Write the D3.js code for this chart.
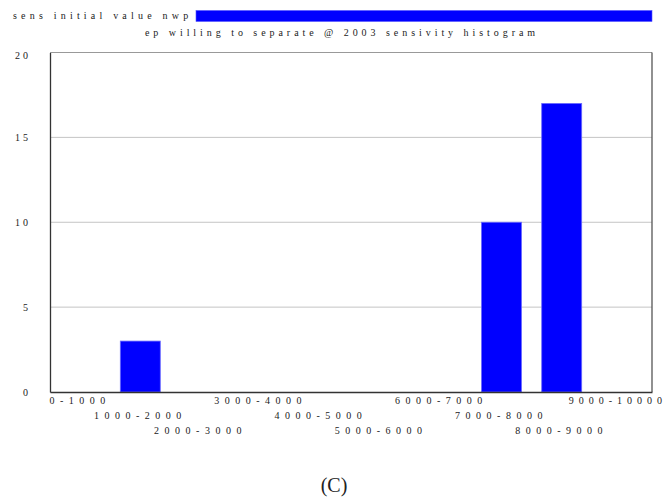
<!DOCTYPE html>
<html><head><meta charset="utf-8">
<script src="https://cdn.jsdelivr.net/npm/d3@7"></script>
<style>body{margin:0;background:#fff}svg{display:block}text{font-family:"Liberation Serif","Times New Roman",serif;fill:#222}</style>
</head><body><svg id="c" width="670" height="499"></svg>
<script>
const categories = ["0-1000","1000-2000","2000-3000","3000-4000","4000-5000","5000-6000","6000-7000","7000-8000","8000-9000","9000-10000"];
const counts = [0,3,0,0,0,0,0,10,17,0];
const yTicks = [0,5,10,15,20];
const title = "ep willing to separate @ 2003 sensivity histogram";
const sliderLabel = "sens initial value nwp";
const caption = "(C)";

const svg = d3.select("#c");
const m = {l:50, r:652, t:52.5, b:392};
const x = d3.scaleBand().domain(categories).range([m.l, m.r]).paddingInner(0.336).paddingOuter(0.168);
const y = d3.scaleLinear().domain([0,20]).range([m.b, m.t]);

// top slider line
svg.append("text").attr("x",13).attr("y",19).attr("font-size",10).attr("letter-spacing","4.2px").text(sliderLabel);
svg.append("rect").attr("x",196).attr("y",10.5).attr("width",456).attr("height",11).attr("fill","#0000ff").attr("stroke","#5555ff").attr("stroke-width",0.6);
svg.append("text").attr("x",342).attr("y",36).attr("text-anchor","middle").attr("font-size",10).attr("letter-spacing","3.95px").text(title);

// gridlines
svg.append("g").selectAll("line").data(yTicks.filter(d=>d>0&&d<20)).join("line")
  .attr("x1",m.l).attr("x2",m.r).attr("y1",d=>y(d)).attr("y2",d=>y(d)).attr("stroke","#c4c4c4").attr("stroke-width",1);
// frame
svg.append("line").attr("x1",m.l).attr("x2",m.r).attr("y1",y(20)).attr("y2",y(20)).attr("stroke","#999").attr("stroke-width",1);
svg.append("line").attr("x1",m.r).attr("x2",m.r).attr("y1",y(20)).attr("y2",m.b).attr("stroke","#555").attr("stroke-width",1.3);

// bars
svg.append("g").selectAll("rect").data(categories.map((c,i)=>({c,v:counts[i]})).filter(d=>d.v>0)).join("rect")
  .attr("x",d=>x(d.c)).attr("width",x.bandwidth()).attr("y",d=>y(d.v)).attr("height",d=>m.b-y(d.v))
  .attr("fill","#0000ff").attr("stroke","#6a6aff").attr("stroke-width",0.8);

// axes
const ya = svg.append("g").attr("transform",`translate(${m.l},0)`).call(d3.axisLeft(y).tickValues(yTicks).tickSize(0).tickPadding(0).tickFormat(d3.format("d")));
ya.attr("font-family",null);
ya.select(".domain").attr("stroke","#333").attr("stroke-width",1.3);
ya.selectAll("text").attr("x",-19).attr("font-size",10).attr("letter-spacing","3px").attr("fill","#222");
ya.selectAll(".tick").each(function(d){ if(d===20) d3.select(this).select("text").attr("dy","0.55em"); });

const xa = svg.append("g").attr("transform",`translate(0,${m.b})`).call(d3.axisBottom(x).tickSize(0).tickPadding(0));
xa.attr("font-family",null);
xa.select(".domain").attr("stroke","#333").attr("stroke-width",1.3);
const last = categories.length - 1;
xa.selectAll("text").attr("font-size",10).attr("letter-spacing",(d,i)=>i===last?"5px":"5.5px").attr("fill","#222")
  .attr("y",(d,i)=>5+15*(i%3)).attr("dx",(d,i)=>i===last?"-4px":null);

svg.append("text").attr("x",334).attr("y",492).attr("text-anchor","middle").attr("font-size",20).text(caption);
</script></body></html>
